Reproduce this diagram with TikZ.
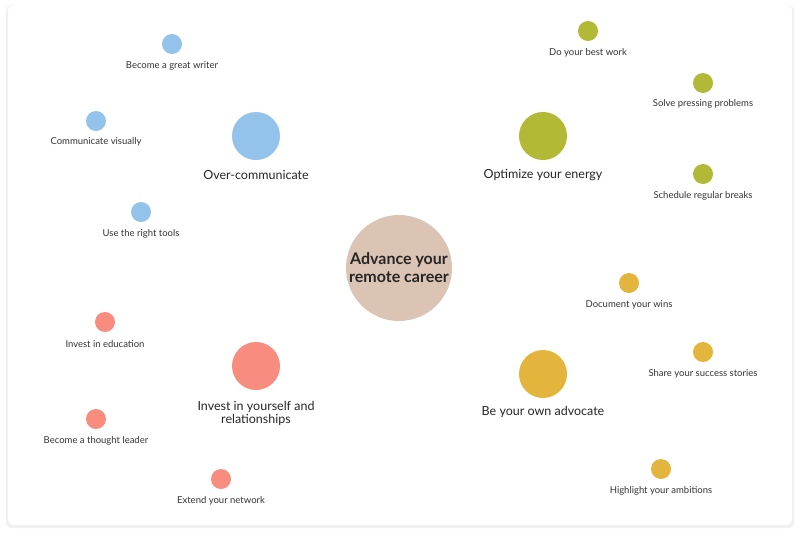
\documentclass[tikz,border=0pt]{standalone}
\usepackage{fontspec}
\setmainfont{Lato}
\begin{document}
\begin{tikzpicture}[x=1pt,y=-1pt,
  lbl/.style={text=black!80,font=\fontsize{9.5}{11}\selectfont,align=center},
  big/.style={text=black!85,font=\fontsize{12.5}{13}\selectfont,align=center},
  dotb/.style={circle,minimum size=20pt,inner sep=0pt,fill=#1},
  dotB/.style={circle,minimum size=48pt,inner sep=0pt,fill=#1}]
\definecolor{cb}{HTML}{93C2EB}\definecolor{cg}{HTML}{B2B936}
\definecolor{cr}{HTML}{F88C7F}\definecolor{cy}{HTML}{E3B53D}
\definecolor{ct}{HTML}{DCC4B4}
\useasboundingbox (0,0) rectangle (800,536);
\fill[black!6,rounded corners=6] (6,5) rectangle (794,528);
\fill[white,rounded corners=6] (8,5) rectangle (792,525);
\node[circle,minimum size=106pt,inner sep=0pt,fill=ct] (c) at (399,268) {};
\node[font=\bfseries\fontsize{16}{18}\selectfont,text=black!85,align=center] (ct) at (399,268) {Advance your\\remote career};
% blue
\node[dotB=cb] (b) at (256,136) {}; \node[big] (bl) at (256,175) {Over-communicate};
\node[dotb=cb] (b1) at (172,44) {}; \node[lbl] (b1l) at (172,66) {Become a great writer};
\node[dotb=cb] (b2) at (96,121) {}; \node[lbl] (b2l) at (96,142) {Communicate visually};
\node[dotb=cb] (b3) at (141,212) {}; \node[lbl] (b3l) at (141,234) {Use the right tools};
% green
\node[dotB=cg] (g) at (543,136) {}; \node[big] (gl) at (543,175) {Optimize your energy};
\node[dotb=cg] (g1) at (588,31) {}; \node[lbl] (g1l) at (588,53) {Do your best work};
\node[dotb=cg] (g2) at (703,83) {}; \node[lbl] (g2l) at (703,104) {Solve pressing problems};
\node[dotb=cg] (g3) at (703,174) {}; \node[lbl] (g3l) at (703,196) {Schedule regular breaks};
% red
\node[dotB=cr] (r) at (256,366) {}; \node[big] (rl) at (256,413) {Invest in yourself and\\relationships};
\node[dotb=cr] (r1) at (105,322) {}; \node[lbl] (r1l) at (105,344) {Invest in education};
\node[dotb=cr] (r2) at (96,419) {}; \node[lbl] (r2l) at (96,441) {Become a thought leader};
\node[dotb=cr] (r3) at (221,479) {}; \node[lbl] (r3l) at (221,501) {Extend your network};
% yellow
\node[dotB=cy] (y) at (543,374) {}; \node[big] (yl) at (543,412) {Be your own advocate};
\node[dotb=cy] (y1) at (629,283) {}; \node[lbl] (y1l) at (629,305) {Document your wins};
\node[dotb=cy] (y2) at (703,352) {}; \node[lbl] (y2l) at (703,374) {Share your success stories};
\node[dotb=cy] (y3) at (661,469) {}; \node[lbl] (y3l) at (661,491) {Highlight your ambitions};
\end{tikzpicture}
\end{document}
